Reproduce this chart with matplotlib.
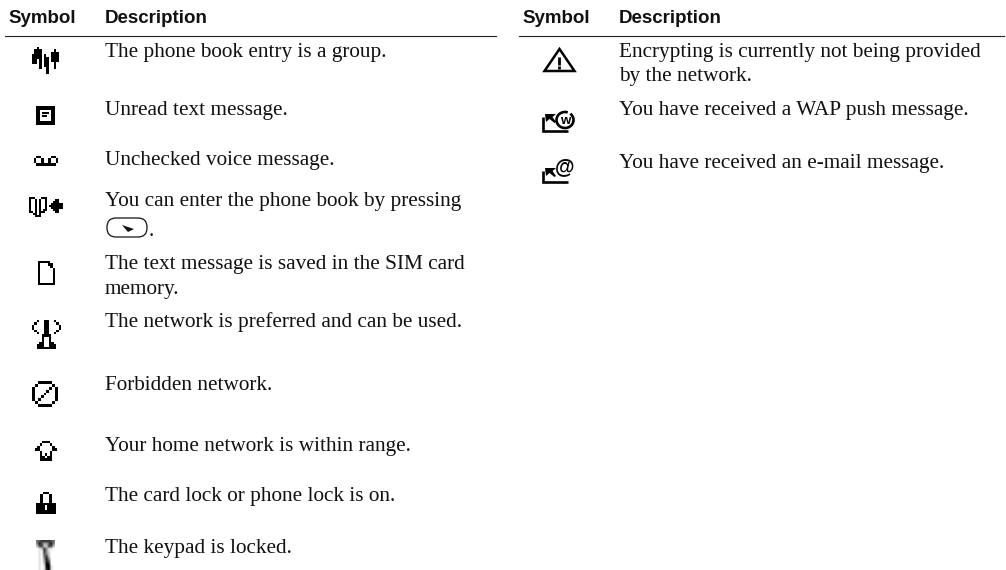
import numpy as np
import matplotlib
matplotlib.use("Agg")
import matplotlib.pyplot as plt
from matplotlib.patches import FancyBboxPatch, Polygon, Arc

# table text
header_symbol = "Symbol"
header_desc = "Description"
left_lines = [
    "The phone book entry is a group.",
    "Unread text message.",
    "Unchecked voice message.",
    "You can enter the phone book by pressing",
    ".",
    "The text message is saved in the SIM card",
    "memory.",
    "The network is preferred and can be used.",
    "Forbidden network.",
    "Your home network is within range.",
    "The card lock or phone lock is on.",
    "The keypad is locked.",
]
right_lines = [
    "Encrypting is currently not being provided",
    "by the network.",
    "You have received a WAP push message.",
    "You have received an e-mail message.",
]

# pixel icons, one string per row
icon_group = [
    "..#.........",
    ".###.....#..",
    ".###....###.",
    "####.#..###.",
    "####.##.###.",
    "##.#.##.###.",
    "##.#.##..#..",
    "...#.##..#..",
    "...#..#..#..",
    "......#.....",
    "......#.....",
]
icon_unread = [
    "##########",
    "##########",
    "##......##",
    "##.####.##",
    "##......##",
    "##.###..##",
    "##......##",
    "##......##",
    "##########",
    "##########",
]
icon_voice = [
    ".##....##.",
    "#..#..#..#",
    "#..#..#..#",
    ".########.",
]
icon_book = [
    "###...###........",
    "#..#.#..#....##..",
    "#..#.#..#...###..",
    "#..#.#..#..######",
    "#..#.#..#.#######",
    "#..#.#..#..######",
    "#..#.#.##...###..",
    "##.#.###.....##..",
    "..##.#...........",
    "...###...........",
]
icon_sim = [
    "#####..",
    "#...##.",
    "#....#.",
    "#.....#",
    "#.....#",
    "#.....#",
    "#.....#",
    "#.....#",
    "#.....#",
    "#######",
]
icon_network = [
    "..#..##..#..",
    ".#...##...#.",
    "#....##....#",
    "#....##....#",
    ".#...##...#.",
    "..#..##..#..",
    "....####....",
    "....#..#....",
    "....#..#....",
    "...##..##...",
    "..###..###..",
    "..########..",
]
icon_forbidden = [
    "..#####..",
    ".#.....#.",
    "#.....#.#",
    "#....#..#",
    "#...#...#",
    "#..#....#",
    "#.#.....#",
    ".#.....#.",
    "..#####..",
]
icon_home = [
    "...###...",
    "..#...#..",
    ".#.....#.",
    "##.....##",
    "..#...#..",
    "..#.#.#..",
    "..##.##..",
    "..#####..",
]
icon_lock = [
    "...###...",
    "..#...#..",
    "..#...#..",
    "..#...#..",
    "..#...#..",
    "#########",
    "####.####",
    "####.####",
    "#########",
    "#########",
]
# the keypad icon is a blurry grey picture, digits are darkness 0-9
icon_keypad = [
    "56777765",
    "48633684",
    "26722762",
    "01274110",
    "01074100",
    "01064200",
    "01057200",
    "01048400",
    "01038600",
    "01029800",
    "01019910",
    "01018910",
]

icons = [
    (icon_group, 32, 48, 2.4),
    (icon_unread, 36, 106, 1.9),
    (icon_voice, 34, 156.5, 2.4),
    (icon_book, 29, 197, 2.0),
    (icon_sim, 38, 261, 2.4),
    (icon_network, 32, 320, 2.4),
    (icon_forbidden, 32, 382, 2.8),
    (icon_home, 35, 442, 2.4),
    (icon_lock, 36, 492, 2.2),
]

left_baselines = [57, 115, 165, 206, 236, 269, 294, 327, 390, 451, 501, 553]
right_baselines = [57, 81, 115, 168]

W, H = 1006, 570
fig = plt.figure(figsize=(W / 100, H / 100), dpi=100)
ax = fig.add_axes([0, 0, 1, 1])
ax.set_xlim(0, W)
ax.set_ylim(H, 0)
ax.axis("off")

SANS = "Liberation Sans"
SERIF = "Liberation Serif"
TEXT_COLOR = "#111111"
BODY_SIZE = 15.3
HEAD_SIZE = 13.5

# headers and rules
for sx, dx in [(8, 105), (522, 619)]:
    ax.text(sx, 23, header_symbol, family=SANS, weight="bold", fontsize=HEAD_SIZE, color=TEXT_COLOR, va="baseline")
    ax.text(dx, 23, header_desc, family=SANS, weight="bold", fontsize=HEAD_SIZE, color=TEXT_COLOR, va="baseline")
ax.plot([5, 496], [36, 36], color="#222222", lw=0.8)
ax.plot([519, 1004], [36, 36], color="#222222", lw=0.8)

# description text
for line, y in zip(left_lines, left_baselines):
    x = 149 if line == "." else 105
    ax.text(x, y, line, family=SERIF, fontsize=BODY_SIZE, color=TEXT_COLOR, va="baseline")
for line, y in zip(right_lines, right_baselines):
    ax.text(619, y, line, family=SERIF, fontsize=BODY_SIZE, color=TEXT_COLOR, va="baseline")

# pixel icons
for rows, x0, y0, cell in icons:
    grid = np.array([[0.0 if c == "#" else 1.0 for c in r] for r in rows])
    ax.imshow(grid, cmap="gray", vmin=0, vmax=1, interpolation="nearest", aspect="auto",
              extent=(x0, x0 + grid.shape[1] * cell, y0 + grid.shape[0] * cell, y0), zorder=3)

keypad = 1 - np.array([[int(c) / 9 for c in r] for r in icon_keypad])
ax.imshow(keypad, cmap="gray", vmin=0, vmax=1, interpolation="bilinear", aspect="auto",
          extent=(36, 55, 570, 540), zorder=3)

# key symbol inside the text
ax.add_patch(FancyBboxPatch((107, 218), 40, 19, boxstyle="round,pad=0,rounding_size=9",
                            fc="white", ec="#111111", lw=0.9, mutation_aspect=1))
ax.add_patch(Polygon([(122, 225), (134, 229), (128, 232)], closed=True, fc="#111111", ec="none"))

# warning triangle
ax.add_patch(Polygon([(559.5, 49), (574.5, 71), (544.5, 71)], closed=True, fc="none", ec="black", lw=1.8, joinstyle="miter"))
ax.plot([559.5, 559.5], [57, 65], color="black", lw=2, solid_capstyle="butt")
ax.plot([559.5, 559.5], [66, 68.5], color="black", lw=2, solid_capstyle="butt")


def envelope(top, bottom):
    # L shape with the small arrow in the corner
    ax.plot([543.5, 543.5, 568], [top + 3, bottom, bottom], color="black", lw=1.9, solid_capstyle="butt", solid_joinstyle="miter")
    ax.add_patch(Polygon([(545, top), (556, top), (552.5, top + 3), (556, top + 8), (554.5, top + 9), (549.5, top + 5), (546, top + 8)],
                         closed=True, fc="black", ec="none"))


envelope(114, 131)
ax.add_patch(Arc((565, 120), 17, 16, theta1=-50, theta2=290, ec="black", lw=1.9))
ax.text(565.5, 124, "w", family=SANS, weight="bold", fontsize=9.5, ha="center", va="baseline", color="black")

envelope(168, 182)
ax.text(565, 172, "@", family=SANS, weight="bold", fontsize=14.5, ha="center", va="baseline", color="black")

ax.set_xlim(0, W)
ax.set_ylim(H, 0)
fig.savefig("out.png", dpi=100, facecolor="white")
